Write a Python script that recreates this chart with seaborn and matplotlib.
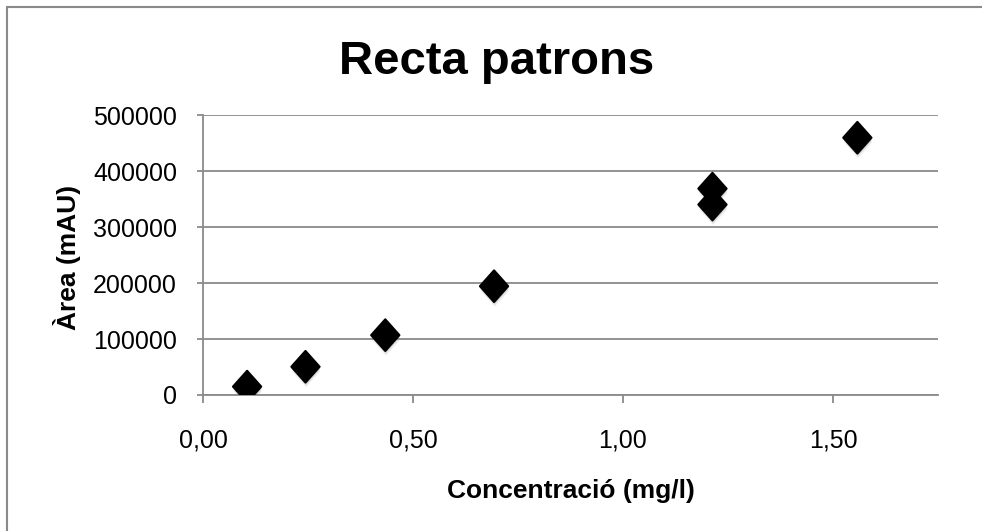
import numpy as np
import matplotlib
matplotlib.use("Agg")
import matplotlib.pyplot as plt
from matplotlib.path import Path
from matplotlib.lines import Line2D
import matplotlib.patheffects as pe
import seaborn as sns
import pandas as pd

# Calibration standards: concentration (mg/l) and peak area (mAU)
concentracio = [0.105, 0.244, 0.434, 0.693, 1.213, 1.213, 1.558]
area = [15000, 50500, 107000, 194500, 369000, 340500, 460000]

x_ticks = [0.0, 0.5, 1.0, 1.5]
x_tick_labels = ["0,00", "0,50", "1,00", "1,50"]
y_ticks = [0, 100000, 200000, 300000, 400000, 500000]
y_tick_labels = ["0", "100000", "200000", "300000", "400000", "500000"]

title = "Recta patrons"
x_label = "Concentració (mg/l)"
y_label = "Àrea (mAU)"

sns.set_theme(style="white")
plt.rcParams["font.family"] = ["Liberation Sans", "DejaVu Sans"]

GRAY = "#8a8a8a"
LW = 1.3

fig = plt.figure(figsize=(9.82, 5.31), dpi=100)
W, H = 982, 531
ax = fig.add_axes([203 / W, 1 - 395 / H, (938 - 203) / W, 280 / H])

df = pd.DataFrame({"conc": concentracio, "area": area})

# slightly tall diamond marker
diamond = Path([(0, 1.12), (1, 0), (0, -1.12), (-1, 0), (0, 1.12)],
               [Path.MOVETO, Path.LINETO, Path.LINETO, Path.LINETO, Path.CLOSEPOLY])

sns.scatterplot(data=df, x="conc", y="area", ax=ax, marker=diamond, s=520,
                color="black", edgecolor="black", linewidth=1.5, zorder=5)
coll = ax.collections[0]
coll.set_joinstyle("round")
coll.set_path_effects([
    pe.SimplePatchShadow(offset=(0.5, -3.5), shadow_rgbFace="0.55", alpha=0.10),
    pe.SimplePatchShadow(offset=(0.5, -2.5), shadow_rgbFace="0.55", alpha=0.15),
    pe.SimplePatchShadow(offset=(0.3, -1.5), shadow_rgbFace="0.5", alpha=0.2),
    pe.Normal(),
])

ax.set_xlim(0, 1.75)
ax.set_ylim(0, 500600)
ax.set_xticks(x_ticks)
ax.set_xticklabels(x_tick_labels)
ax.set_yticks(y_ticks)
ax.set_yticklabels(y_tick_labels)
ax.set_xlabel("")
ax.set_ylabel("")

ax.yaxis.grid(True, color=GRAY, linewidth=LW)
ax.xaxis.grid(False)
ax.set_axisbelow(True)

for side in ["top", "right"]:
    ax.spines[side].set_visible(False)
for side in ["left", "bottom"]:
    ax.spines[side].set_color(GRAY)
    ax.spines[side].set_linewidth(LW)

ax.tick_params(axis="x", direction="out", length=5.8, width=LW, color=GRAY,
               pad=18, labelsize=18, labelcolor="black", bottom=True)
ax.tick_params(axis="y", direction="out", length=4.3, width=LW, color=GRAY,
               pad=14.4, labelsize=18, labelcolor="black", left=True)

fig.text(497 / W, 1 - 74 / H, title, ha="center", va="baseline",
         fontsize=34, fontweight="bold", color="black")
fig.text(571 / W, 1 - 498 / H, x_label, ha="center", va="baseline",
         fontsize=19, fontweight="bold", color="black")
fig.text(67 / W, 1 - 257.5 / H, y_label, ha="center", va="center",
         rotation=90, fontsize=19, fontweight="bold", color="black")

# chart area frame (top and left edges)
fig.add_artist(Line2D([6.5 / W, 1.0], [1 - 6.5 / H, 1 - 6.5 / H],
                      transform=fig.transFigure, color=GRAY, linewidth=1.5))
fig.add_artist(Line2D([6.5 / W, 6.5 / W], [0.0, 1 - 6.5 / H],
                      transform=fig.transFigure, color=GRAY, linewidth=1.5))

fig.savefig("out.png", dpi=100)
